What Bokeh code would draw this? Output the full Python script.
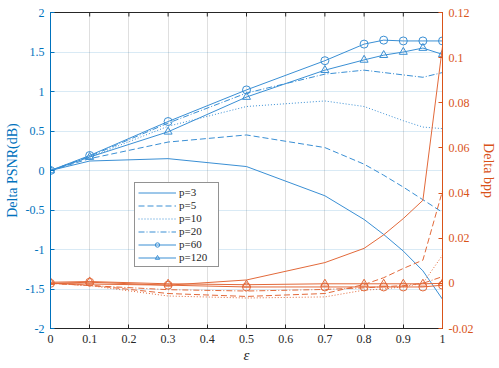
import math
from bokeh.plotting import figure
from bokeh.models import Range1d, LinearAxis, FixedTicker, Legend, LegendItem
from bokeh.embed import file_html
from bokeh.resources import INLINE

# ---- data ----
eps = [0, 0.1, 0.3, 0.5, 0.7, 0.8, 0.85, 0.9, 0.95, 1.0]

psnr_p3 = [0, 0.12, 0.15, 0.05, -0.32, -0.62, -0.81, -1.02, -1.27, -1.63]
psnr_p5 = [0, 0.15, 0.36, 0.45, 0.29, 0.08, -0.06, -0.21, -0.37, -0.53]
psnr_p10 = [0, 0.17, 0.56, 0.81, 0.88, 0.81, 0.72, 0.63, 0.55, 0.53]
psnr_p20 = [0, 0.18, 0.60, 0.98, 1.22, 1.27, 1.24, 1.21, 1.18, 1.24]
psnr_p60 = [0, 0.19, 0.62, 1.02, 1.39, 1.60, 1.65, 1.64, 1.64, 1.64]
psnr_p120 = [0, 0.17, 0.49, 0.93, 1.27, 1.40, 1.46, 1.50, 1.55, 1.47]

bpp_p3 = [0, -0.0003, -0.0008, 0.0015, 0.0092, 0.0155, 0.0215, 0.0287, 0.0368, 0.105]
bpp_p5 = [0, -0.0008, -0.0045, -0.0058, -0.0045, -0.0005, 0.0025, 0.0066, 0.0103, 0.041]
bpp_p10 = [0, -0.001, -0.0056, -0.0065, -0.006, -0.003, -0.0025, -0.0015, 0.0, 0.0125]
bpp_p20 = [0, -0.001, -0.0028, -0.0034, -0.0027, -0.002, -0.0015, -0.001, 0.0, 0.003]
bpp_p60 = [0, 0.0005, -0.0008, -0.0016, -0.0016, -0.0016, -0.0016, -0.0016, -0.0016, -0.0008]
bpp_p120 = [0.0005, 0.0008, -0.0002, -0.0006, -0.0002, -0.0002, -0.0002, -0.0002, -0.0002, 0.0]

labels = ["p=3", "p=5", "p=10", "p=20", "p=60", "p=120"]

x_ticks = [0, 0.1, 0.2, 0.3, 0.4, 0.5, 0.6, 0.7, 0.8, 0.9, 1.0]
x_tick_labels = ["0", "0.1", "0.2", "0.3", "0.4", "0.5", "0.6", "0.7", "0.8", "0.9", "1"]
yl_ticks = [-2, -1.5, -1, -0.5, 0, 0.5, 1, 1.5, 2]
yl_tick_labels = ["-2", "-1.5", "-1", "-0.5", "0", "0.5", "1", "1.5", "2"]
yr_ticks = [-0.02, 0, 0.02, 0.04, 0.06, 0.08, 0.1, 0.12]
yr_tick_labels = ["-0.02", "0", "0.02", "0.04", "0.06", "0.08", "0.1", "0.12"]

BLUE = "#0072BD"
ORANGE = "#D95319"
LBLUE = "#3a8fd4"
LORANGE = "#e2693a"
DARK = "#262626"
FONT = "Liberation Serif"

p = figure(width=499, height=368, output_backend="svg", toolbar_location=None,
           x_range=Range1d(0, 1), y_range=Range1d(-2, 2),
           min_border_left=50, min_border_right=56, min_border_top=12, min_border_bottom=40)
p.extra_y_ranges = {"bpp": Range1d(-0.02, 0.12)}
p.outline_line_color = DARK
p.outline_line_width = 1
p.background_fill_color = "white"

# grids
p.xgrid.ticker = FixedTicker(ticks=x_ticks)
p.xgrid.grid_line_color = DARK
p.xgrid.grid_line_alpha = 0.15
p.ygrid.ticker = FixedTicker(ticks=yl_ticks)
p.ygrid.grid_line_color = BLUE
p.ygrid.grid_line_alpha = 0.15

# bottom axis
xa = p.xaxis[0]
xa.ticker = FixedTicker(ticks=x_ticks)
xa.major_label_overrides = {t: l for t, l in zip(x_ticks, x_tick_labels)}
xa.axis_label = "ε"
xa.axis_label_text_font_style = "italic"
xa.axis_label_text_font = FONT
xa.axis_label_text_font_size = "15px"
xa.axis_label_text_color = DARK
xa.axis_label_standoff = 1
xa.major_label_text_font = FONT
xa.major_label_text_font_size = "12px"
xa.major_label_text_color = DARK
xa.major_label_standoff = 6
xa.axis_line_color = DARK
xa.major_tick_line_color = DARK
xa.major_tick_in = 4
xa.major_tick_out = 0
xa.minor_tick_line_color = None

# left axis
ya = p.yaxis[0]
ya.ticker = FixedTicker(ticks=yl_ticks)
ya.major_label_overrides = {t: l for t, l in zip(yl_ticks, yl_tick_labels)}
ya.axis_label = "Delta PSNR(dB)"
ya.axis_label_text_font = FONT
ya.axis_label_text_font_style = "normal"
ya.axis_label_text_font_size = "14px"
ya.axis_label_text_color = BLUE
ya.axis_label_standoff = 3
ya.major_label_text_font = FONT
ya.major_label_text_font_size = "12px"
ya.major_label_text_color = BLUE
ya.major_label_standoff = 6
ya.axis_line_color = BLUE
ya.major_tick_line_color = BLUE
ya.major_tick_in = 4
ya.major_tick_out = 0
ya.minor_tick_line_color = None

# right axis
ra = LinearAxis(y_range_name="bpp", ticker=FixedTicker(ticks=yr_ticks))
ra.major_label_overrides = {t: l for t, l in zip(yr_ticks, yr_tick_labels)}
ra.axis_label = "Delta bpp"
ra.axis_label_text_font = FONT
ra.axis_label_text_font_style = "normal"
ra.axis_label_text_font_size = "14px"
ra.axis_label_text_color = ORANGE
ra.axis_label_standoff = 5
ra.major_label_text_font = FONT
ra.major_label_text_font_size = "12px"
ra.major_label_text_color = ORANGE
ra.major_label_standoff = 6
ra.axis_line_color = ORANGE
ra.major_tick_line_color = ORANGE
ra.major_tick_in = 4
ra.major_tick_out = 0
ra.minor_tick_line_color = None
p.add_layout(ra, "right")

# inward ticks along the top edge of the box
p.scatter(x_ticks, [yl_ticks[-1]] * len(x_ticks), marker="dash", angle=math.pi / 2,
          size=8, line_color=DARK, line_width=1)

styles = [
    ("solid", None),
    ("6 3", None),
    ("1 2", None),
    ("6 2 1 2", None),
    ("solid", "circle"),
    ("solid", "triangle"),
]
psnr_series = [psnr_p3, psnr_p5, psnr_p10, psnr_p20, psnr_p60, psnr_p120]
bpp_series = [bpp_p3, bpp_p5, bpp_p10, bpp_p20, bpp_p60, bpp_p120]

items = []
for (dash, marker), ys, lab in zip(styles, psnr_series, labels):
    rs = [p.line(eps, ys, line_color=LBLUE, line_width=1, line_dash=dash)]
    if marker:
        rs.append(p.scatter(eps, ys, marker=marker, size=8, line_color=LBLUE,
                            fill_color=None, line_width=1))
    items.append(LegendItem(label=lab, renderers=rs))

for (dash, marker), ys in zip(styles, bpp_series):
    p.line(eps, ys, line_color=LORANGE, line_width=1, line_dash=dash, y_range_name="bpp")
    if marker:
        p.scatter(eps, ys, marker=marker, size=8, line_color=LORANGE, fill_color=None,
                  line_width=1, y_range_name="bpp")

legend = Legend(items=items, location=(84, 61))
legend.label_text_font = FONT
legend.label_text_font_size = "11px"
legend.label_text_color = DARK
legend.label_height = 11
legend.glyph_height = 11
legend.glyph_width = 38
legend.label_width = 36
legend.label_standoff = 3
legend.spacing = 1
legend.padding = 3
legend.margin = 0
legend.border_line_color = DARK
legend.border_line_width = 1
legend.background_fill_color = "white"
legend.background_fill_alpha = 1
p.add_layout(legend, "center")

open("out.html", "w").write(file_html(p, INLINE))
